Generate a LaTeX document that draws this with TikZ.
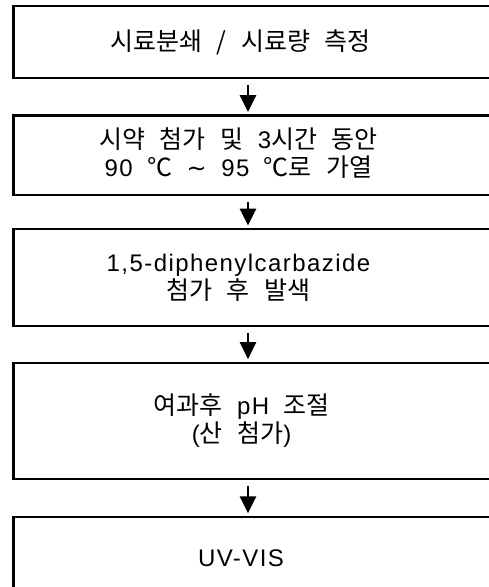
\documentclass[tikz,border=0pt]{standalone}
\usepackage{fontspec}
\setmainfont{Noto Sans CJK KR}
\newfontfamily\latf{Liberation Sans}[LetterSpace=6]
\newfontfamily\symf{DejaVu Sans}
\newcommand\lat[1]{{\fontsize{24}{28.4}\latf #1}}
\newcommand\symb[1]{{\fontsize{24}{28.4}\symf #1}}
\newcommand\kofont{\fontsize{25}{28.4}\selectfont\fontdimen2\font=14.5pt\relax}
\usetikzlibrary{arrows.meta,calc}
\begin{document}
\begin{tikzpicture}[x=1pt,y=-1pt,
  boxn/.style={draw, line width=2.2pt, rectangle, inner sep=0pt, outer sep=0pt, minimum width=486.5pt},
  lbl/.style={align=center, inner sep=0pt, font=\kofont},
  flow/.style={line width=2.6pt, -{Triangle[width=16pt,length=17pt]}}]
\useasboundingbox (0,0) rectangle (489,587);
\clip (0,0) rectangle (489,587);
\node[boxn, minimum height=72.3pt]  (b1) at (256.75,41.85) {};
\node[boxn, minimum height=79.5pt]  (b2) at (256.75,155.25) {};
\node[boxn, minimum height=97pt]    (b3) at (256.75,277.5) {};
\node[boxn, minimum height=116.4pt] (b4) at (256.75,420.8) {};
\node[boxn, minimum height=84pt]    (b5) at (256.75,558.7) {};
\node[lbl] (t1) at (240.5,42.8) {시료분쇄 / 시료량 측정};
\node[lbl] (t2) at (238.5,153.3) {시약 첨가 및 \lat{3}시간 동안\\\lat{90} ℃ \symb{∼} \lat{95} ℃로 가열};
\node[lbl] (t3) at (238.5,277.7) {\lat{1,5-diphenylcarbazide}\\첨가 후 발색};
\node[lbl] (t4) at (241.7,420.8) {여과후 \lat{pH} 조절\\\lat{(}산 첨가\lat{)}};
\node[lbl] (t5) at (241,558.7) {\lat{UV-VIS}};
\draw[flow] ($(b1.south)+(-8.75,6.7)$) -- ($(b2.north)+(-8.75,-3.4)$);
\draw[flow] ($(b2.south)+(-8.75,6.7)$) -- ($(b3.north)+(-8.75,-3.4)$);
\draw[flow] ($(b3.south)+(-8.75,6.7)$) -- ($(b4.north)+(-8.75,-3.4)$);
\draw[flow] ($(b4.south)+(-8.75,6.7)$) -- ($(b5.north)+(-8.75,-3.4)$);
\end{tikzpicture}
\end{document}
